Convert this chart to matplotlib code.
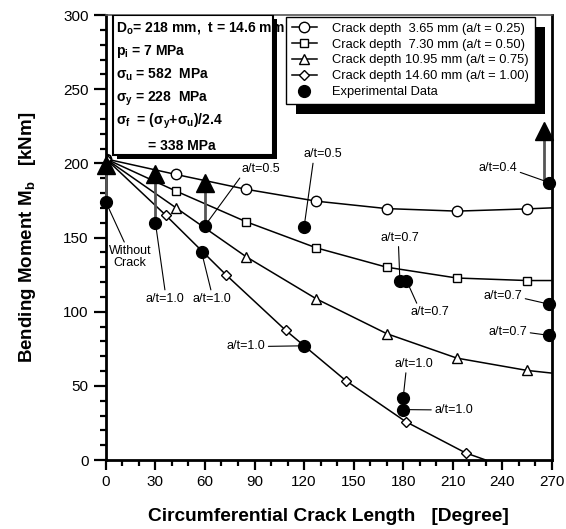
import matplotlib
matplotlib.use('Agg')
from matplotlib import pyplot as plt
from matplotlib.patches import Rectangle
from matplotlib.ticker import MultipleLocator

plt.rcParams['font.family'] = 'Liberation Sans'
plt.rcParams['mathtext.fontset'] = 'custom'
plt.rcParams['mathtext.rm'] = 'Liberation Sans'
plt.rcParams['mathtext.bf'] = 'Liberation Sans:bold'

# crack depth curves (x in degree, y in kNm)
x_std = [0, 42.5, 85, 127.5, 170, 212.5, 255, 270]
y_025 = [203, 192.5, 182.5, 174.5, 169.5, 167.8, 169.3, 170]
y_050 = [203, 181.3, 160.6, 143, 130, 122.7, 121, 121]
y_075 = [203, 170, 137, 108.6, 85.2, 68.7, 60.4, 58.6]
x_100 = [0, 36.3, 72.6, 108.9, 145.2, 181.5, 217.8, 230]
y_100 = [203, 165, 125, 87.4, 53.6, 25.9, 4.8, 0]

labels = ['Crack depth  3.65 mm (a/t = 0.25)',
          'Crack depth  7.30 mm (a/t = 0.50)',
          'Crack depth 10.95 mm (a/t = 0.75)',
          'Crack depth 14.60 mm (a/t = 1.00)',
          'Experimental Data']

# experimental data
exp_x = [0, 30, 58, 60, 120, 120, 178, 182, 180, 180, 268.5, 268.5, 268.5]
exp_y = [174, 160, 140, 158, 157, 77, 121, 121, 42, 34, 187, 105, 84]

# upward arrows
arr_x = [0, 30, 60, 265.5]
arr_lo = [174, 160, 158, 189]
arr_hi = [199, 192.6, 187, 222]

# annotations: text, point, text position, relpos
notes = [
    ('Without\nCrack', (0, 174), (14.5, 137), (0.4, 1)),
    ('a/t=1.0', (30, 160), (36, 108.8), (0.5, 1)),
    ('a/t=1.0', (58, 140), (64, 108.8), (0.5, 1)),
    ('a/t=1.0', (120, 77), (85, 76.6), (1, 0.5)),
    ('a/t=0.5', (60, 158), (94, 196), (0, 0)),
    ('a/t=0.5', (120, 157), (131.5, 206), (0.25, 0)),
    ('a/t=0.4', (268.5, 187), (237.5, 197), (1, 0.2)),
    ('a/t=0.7', (178, 121), (178.3, 149.8), (0.45, 0)),
    ('a/t=0.7', (182, 121), (196, 99.8), (0.2, 1)),
    ('a/t=0.7', (268.5, 105), (240.5, 110.8), (1, 0.3)),
    ('a/t=0.7', (268.5, 84), (243.5, 86), (1, 0.5)),
    ('a/t=1.0', (180, 42), (186.5, 64.7), (0.3, 0)),
    ('a/t=1.0', (180, 34), (210.4, 33.8), (0, 0.5)),
]

info = ['D$_\\mathbf{o}$= 218 mm,  t = 14.6 mm',
        'p$_\\mathbf{i}$ = 7 MPa',
        '\u03c3$_\\mathbf{u}$ = 582  MPa',
        '\u03c3$_\\mathbf{y}$ = 228  MPa',
        '\u03c3$_\\mathbf{f}$  = (\u03c3$_\\mathbf{y}$+\u03c3$_\\mathbf{u}$)/2.4']
info_last = '= 338 MPa'

fig = plt.figure(figsize=(5.66, 5.29), dpi=100)
ax = fig.add_axes([0.187, 0.1304, 0.788, 0.8412])

kw = dict(color='black', lw=1.1, mfc='white', mec='black', markevery=range(7), zorder=2)
ax.plot(x_std, y_025, marker='o', ms=7.5, label=labels[0], **kw)
ax.plot(x_std, y_050, marker='s', ms=6, label=labels[1], **kw)
ax.plot(x_std, y_075, marker='^', ms=6.5, label=labels[2], **kw)
ax.plot(x_100, y_100, marker='D', ms=5.5, label=labels[3], **kw)

for xa, lo, hi in zip(arr_x, arr_lo, arr_hi):
    ax.plot([xa, xa], [lo, hi], color='#555555', lw=2, zorder=3, clip_on=False)
ax.plot(arr_x, arr_hi, ls='none', marker='^', ms=12.5, color='black', zorder=3, clip_on=False)

ax.plot(exp_x, exp_y, ls='none', marker='o', ms=8.5, color='black', label=labels[4],
        zorder=4, clip_on=False)

for txt, xy, xyt, rp in notes:
    ax.annotate(txt, xy=xy, xytext=xyt, ha='center', va='center', fontsize=9,
                linespacing=1.0,
                arrowprops=dict(arrowstyle='-', lw=0.8, color='black', relpos=rp,
                                shrinkA=0, shrinkB=0))

ax.set_xlim(0, 270)
ax.set_ylim(0, 300)
ax.xaxis.set_major_locator(MultipleLocator(30))
ax.xaxis.set_minor_locator(MultipleLocator(10))
ax.yaxis.set_major_locator(MultipleLocator(50))
ax.yaxis.set_minor_locator(MultipleLocator(10))
ax.tick_params(which='major', direction='out', length=7, width=1.6, labelsize=11)
ax.tick_params(axis='y', which='major', length=9)
ax.tick_params(which='minor', direction='out', length=4.5, width=1.6)
for s in ['left', 'bottom', 'right']:
    ax.spines[s].set_linewidth(2)
ax.spines['top'].set_linewidth(1.2)
ax.spines['top'].set_color('#555555')

ax.set_xlabel('Circumferential Crack Length   [Degree]', fontsize=13.8, fontweight='bold',
              labelpad=14)
ax.set_ylabel('Bending Moment M$_\\mathbf{b}$   [kNm]', fontsize=13.5, fontweight='bold',
              labelpad=18)

# info box with shadow
sh = Rectangle((0.024, 0.676), 0.359, 0.315, transform=ax.transAxes, facecolor='black',
               edgecolor='none', zorder=5)
bx = Rectangle((0.015, 0.685), 0.359, 0.315, transform=ax.transAxes, facecolor='white',
               edgecolor='black', lw=1.5, zorder=5.1)
ax.add_patch(sh)
ax.add_patch(bx)
ys = [0.970, 0.918, 0.865, 0.811, 0.760]
for t, yy in zip(info, ys):
    ax.text(0.022, yy, t, transform=ax.transAxes, fontsize=10, fontweight='bold',
            va='center', ha='left', zorder=6)
ax.text(0.094, 0.706, info_last, transform=ax.transAxes, fontsize=10, fontweight='bold',
        va='center', ha='left', zorder=6)

leg = ax.legend(loc='upper right', bbox_to_anchor=(0.962, 0.996), fontsize=9.3,
                frameon=True, fancybox=False, edgecolor='black', framealpha=1,
                handlelength=1.9, handletextpad=1.2, borderpad=0.45, labelspacing=0.3,
                borderaxespad=0)
leg.get_frame().set_linewidth(1.0)
leg.set_zorder(8)

fig.canvas.draw()
bb = leg.get_window_extent().transformed(ax.transAxes.inverted())
dx = 10 / (ax.bbox.width)
dy = 10 / (ax.bbox.height)
ax.add_patch(Rectangle((bb.x0 + dx, bb.y0 - dy), bb.width, bb.height, transform=ax.transAxes,
                       facecolor='black', edgecolor='none', zorder=7, clip_on=False))

fig.savefig('out.png', dpi=100)
